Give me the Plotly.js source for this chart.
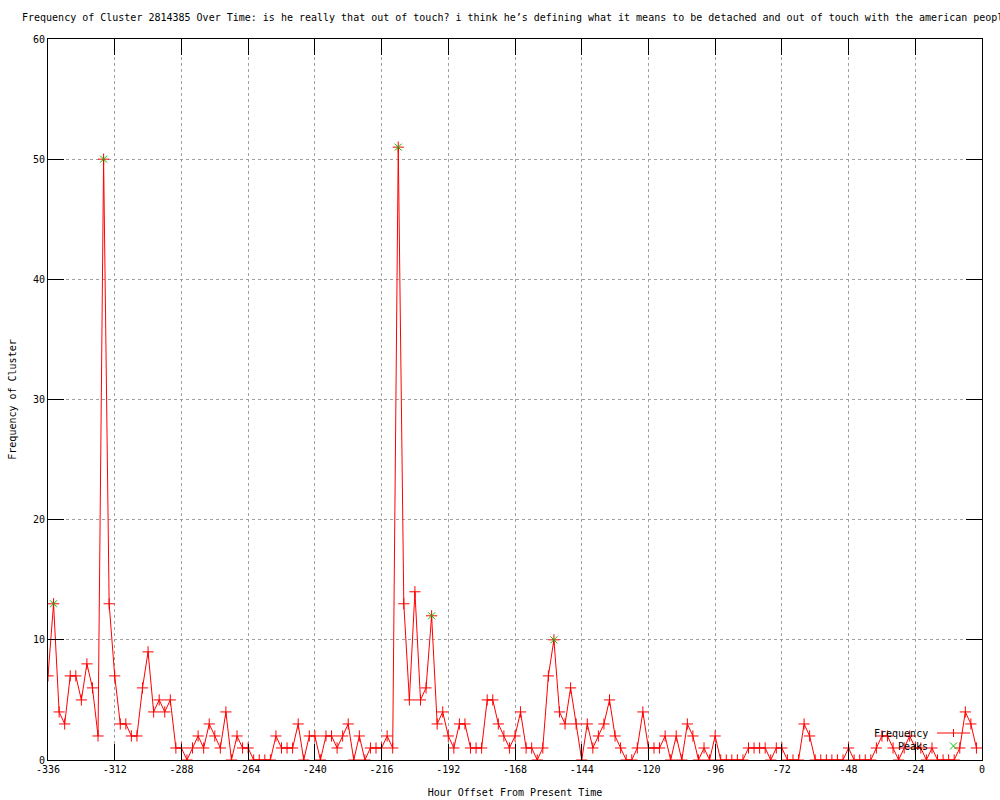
<!DOCTYPE html>
<html>
<head>
<meta charset="utf-8">
<script src="https://cdn.plot.ly/plotly-3.0.1.min.js"></script>
<style>html,body{margin:0;padding:0;background:#fff;}#chart{width:1000px;height:800px;}</style>
</head>
<body>
<div id="chart"></div>
<script>
// Hour offsets (every 2 hours from -336 to -2)
const hourStart = -336;
const hourStep = 2;
const frequency = [
  7, 13, 4, 3, 7, 7, 5, 8, 6, 2,
  50, 13, 7, 3, 3, 2, 2, 6, 9, 4,
  5, 4, 5, 1, 1, 0, 1, 2, 1, 3,
  2, 1, 4, 0, 2, 1, 1, 0, 0, 0,
  0, 2, 1, 1, 1, 3, 0, 2, 2, 0,
  2, 2, 1, 2, 3, 0, 2, 0, 1, 1,
  1, 2, 1, 51, 13, 5, 14, 5, 6, 12,
  3, 4, 2, 1, 3, 3, 1, 1, 1, 5,
  5, 3, 2, 1, 2, 4, 1, 1, 0, 1,
  7, 10, 4, 3, 6, 3, 0, 3, 1, 2,
  3, 5, 2, 1, 0, 0, 1, 4, 1, 1,
  1, 2, 0, 2, 0, 3, 2, 0, 1, 0,
  2, 0, 0, 0, 0, 0, 1, 1, 1, 1,
  0, 1, 1, 0, 0, 0, 3, 2, 0, 0,
  0, 0, 0, 0, 1, 0, 0, 0, 0, 1,
  2, 2, 1, 0, 1, 2, 1, 1, 0, 1,
  0, 0, 0, 0, 1, 4, 3, 1
];
const hours = frequency.map((_, i) => hourStart + hourStep * i);

const peakHours = [-334, -316, -210, -198, -154];
const peakValues = [13, 50, 51, 12, 10];

const xTicks = [-336, -312, -288, -264, -240, -216, -192, -168, -144, -120, -96, -72, -48, -24, 0];
const yTicks = [0, 10, 20, 30, 40, 50, 60];

const titleText = "Frequency of Cluster 2814385 Over Time: is he really that out of touch? i think he\u2019s defining what it means to be detached and out of touch with the american people";
const xTitle = "Hour Offset From Present Time";
const yTitle = "Frequency of Cluster";
const legendNames = ["Frequency", "Peaks"];

const FONT = "DejaVu Sans Mono, monospace";
const RED = "#ff0000";
const GREEN = "#00c000";

const traces = [
  {
    x: hours, y: frequency, type: "scatter", mode: "lines+markers",
    name: legendNames[0],
    line: {color: RED, width: 1},
    marker: {symbol: "cross-thin-open", size: 8, color: RED, line: {color: RED, width: 1}},
    showlegend: false, hoverinfo: "x+y"
  },
  {
    x: peakHours, y: peakValues, type: "scatter", mode: "markers",
    name: legendNames[1],
    marker: {symbol: "x-thin-open", size: 7, color: GREEN, line: {color: GREEN, width: 1}},
    showlegend: false, hoverinfo: "x+y"
  }
];

// legend drawn gnuplot-style: text on the left, sample on the right
const plotL = 48, plotR = 982, plotT = 39, plotB = 760;
const px2x = p => (p - plotL) / (plotR - plotL);
const px2y = p => (plotB - p) / (plotB - plotT);

const layout = {
  width: 1000, height: 800,
  margin: {l: plotL, r: 1000 - plotR, t: plotT, b: 800 - plotB, pad: 0},
  paper_bgcolor: "#ffffff", plot_bgcolor: "#ffffff",
  font: {family: FONT, size: 10, color: "#000"},
  title: {
    text: titleText, font: {family: FONT, size: 10, color: "#000"},
    xref: "container", yref: "container", x: 0.022, xanchor: "left", y: 1 - 17 / 800, yanchor: "middle"
  },
  xaxis: {
    range: [-336, 0], tickmode: "array", tickvals: xTicks, ticktext: xTicks.map(String),
    ticks: "inside", ticklen: 16, tickcolor: "#000", tickwidth: 1,
    showline: true, linecolor: "#000", linewidth: 1, mirror: "ticks",
    showgrid: true, gridcolor: "#a0a0a0", griddash: "dot", gridwidth: 1, zeroline: false,
    tickfont: {family: FONT, size: 10, color: "#000"},
    title: {text: xTitle, font: {family: FONT, size: 10, color: "#000"}, standoff: 14}
  },
  yaxis: {
    range: [0, 60], tickmode: "array", tickvals: yTicks, ticktext: yTicks.map(String),
    ticks: "inside", ticklen: 16, tickcolor: "#000", tickwidth: 1,
    showline: true, linecolor: "#000", linewidth: 1, mirror: "ticks",
    showgrid: true, gridcolor: "#a0a0a0", griddash: "dot", gridwidth: 1, zeroline: false,
    tickfont: {family: FONT, size: 10, color: "#000"},
    title: {text: yTitle, font: {family: FONT, size: 10, color: "#000"}, standoff: 14}
  },
  showlegend: false,
  annotations: [
    {xref: "paper", yref: "paper", x: px2x(930), y: px2y(733), xanchor: "right", yanchor: "middle",
     text: legendNames[0], showarrow: false, font: {family: FONT, size: 10, color: "#000"}},
    {xref: "paper", yref: "paper", x: px2x(930), y: px2y(746), xanchor: "right", yanchor: "middle",
     text: legendNames[1], showarrow: false, font: {family: FONT, size: 10, color: "#000"}}
  ],
  shapes: [
    {type: "line", xref: "paper", yref: "paper", x0: px2x(937), x1: px2x(970), y0: px2y(733), y1: px2y(733),
     line: {color: RED, width: 1}},
    {type: "line", xref: "paper", yref: "paper", x0: px2x(953.5), x1: px2x(953.5), y0: px2y(729), y1: px2y(737),
     line: {color: RED, width: 1}},
    {type: "line", xref: "paper", yref: "paper", x0: px2x(950), x1: px2x(957), y0: px2y(742.5), y1: px2y(749.5),
     line: {color: GREEN, width: 1}},
    {type: "line", xref: "paper", yref: "paper", x0: px2x(950), x1: px2x(957), y0: px2y(749.5), y1: px2y(742.5),
     line: {color: GREEN, width: 1}}
  ]
};

Plotly.newPlot("chart", traces, layout, {displayModeBar: false, staticPlot: true});
</script>
</body>
</html>
